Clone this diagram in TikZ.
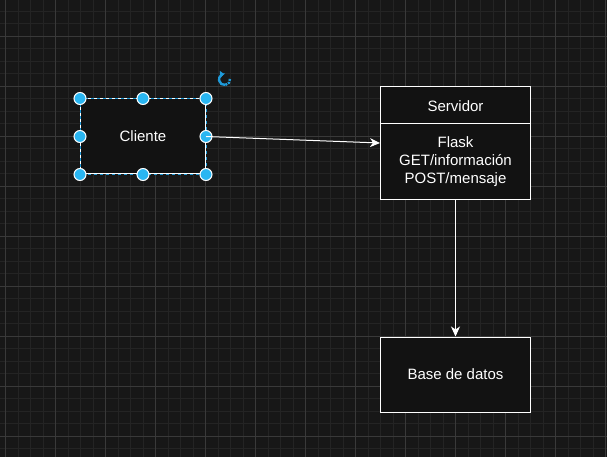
\documentclass[tikz,border=0pt]{standalone}
\usepackage{fontspec}
\setmainfont{Liberation Sans}
\usetikzlibrary{arrows.meta}
\definecolor{fondo}{HTML}{171717}
\definecolor{relleno}{HTML}{121212}
\definecolor{rejmenor}{HTML}{242424}
\definecolor{rejmayor}{HTML}{393939}
\definecolor{azul}{HTML}{29B6F2}
\definecolor{azulsel}{HTML}{1E9AD9}
\tikzset {caja/.style 2 args={draw=white,fill=relleno,line width=1pt,
    minimum width=#1,minimum height=#2,inner sep=0pt,text=white,
    font=\fontsize{15pt}{18pt}\selectfont},
  flecha/.style={draw=white,line width=1pt,-{Stealth[length=10pt,width=9pt,inset=3pt]}},
  asa/.style={fill=azul,draw=white,line width=1pt}}

\begin{document}
\begin{tikzpicture}[x=1pt,y=-1pt]
  % fondo et grille
  \fill[fondo] (0,0) rectangle (607,457);
  \useasboundingbox (0,0) rectangle (607,457);
  \foreach \x in {5.3,17.8,...,606} \draw[rejmenor] (\x,0) -- (\x,457);
  \foreach \y in {11,23.5,...,457} \draw[rejmenor] (0,\y) -- (607,\y);
  \foreach \x in {5.3,55.3,...,606} \draw[rejmayor] (\x,0) -- (\x,457);
  \foreach \y in {36,86,...,457} \draw[rejmayor] (0,\y) -- (607,\y);
  % cliente (selectionne)
  \begin{scope}
    \node[caja={125pt}{75pt}] (cliente) at (143,136.5) {Cliente};
    \draw[azulsel,line width=1pt,dash pattern=on 3pt off 3pt]
      (cliente.north west) rectangle (cliente.south east);
    \foreach \p in {north west,north,north east,west,east,south west,south,south east}
      \draw[asa] (cliente.\p) circle[radius=6pt];
    \draw[azulsel,line width=2.4pt,-{Triangle[length=4pt,width=7pt]}]
      (224.5,79.5) ++(80:5.5) arc (80:265:5.5);  % rotation
    \draw[azulsel,line width=2.4pt,dash pattern=on 2pt off 1pt]
      (224.5,79.5) ++(-5:5.5) arc (-5:80:5.5);
  \end{scope}
  % servidor
  \begin{scope}
    \node[caja={150pt}{112pt}] (servidor) at (455.5,143) {};
    \draw[white,line width=1pt] (servidor.north west) ++(0,37.5) -- ++(150,0);
    \node[text=white,font=\fontsize{15pt}{18pt}\selectfont] (titulo) at (455.5,105.75) {Servidor};
    \node[text=white,align=center,font=\fontsize{15pt}{18pt}\selectfont] (rutas)
      at (455.5,161.75) {Flask\\GET/información\\POST/mensaje};
  \end{scope}
  % base de datos
  \node[caja={150pt}{75pt}] (base) at (455.5,374.5) {Base de datos};
  % fleches
  \draw[flecha] (cliente.east) -- (servidor.west);
  \draw[flecha] (servidor.south) -- (base.north);
\end{tikzpicture}
\end{document}
